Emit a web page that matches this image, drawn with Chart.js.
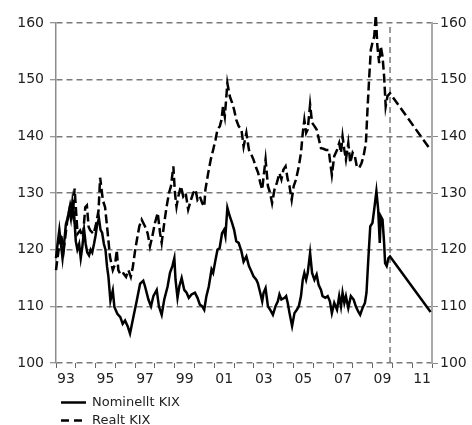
<!DOCTYPE html>
<html><head><meta charset="utf-8">
<script src="https://cdn.jsdelivr.net/npm/chart.js@4/dist/chart.umd.min.js"></script>
<style>html,body{margin:0;padding:0;background:#fff}#wrap{width:472px;height:425px}</style>
</head><body><div id="wrap"><canvas id="c" width="472" height="425"></canvas></div>
<script>
const seriesLabels = ['Nominellt KIX', 'Realt KIX'];

const nominalYears = [
  1993.00,1993.08,1993.17,1993.25,1993.33,1993.42,1993.50,1993.58,1993.67,1993.75,1993.83,1993.92,
  1994.00,1994.08,1994.17,1994.25,1994.33,1994.42,1994.50,1994.58,1994.67,1994.75,1994.83,1994.92,
  1995.00,1995.08,1995.17,1995.25,1995.33,1995.42,1995.50,1995.58,1995.65,1995.75,1995.87,1995.95,
  1996.10,1996.25,1996.37,1996.49,1996.62,1996.74,1996.91,1997.08,1997.25,1997.41,1997.50,1997.67,
  1997.80,1997.92,1998.09,1998.20,1998.34,1998.47,1998.64,1998.76,1998.88,1998.98,1999.04,1999.14,
  1999.23,1999.35,1999.48,1999.60,1999.71,1999.85,2000.02,2000.15,2000.27,2000.39,2000.49,2000.60,
  2000.72,2000.86,2000.94,2001.06,2001.16,2001.27,2001.39,2001.49,2001.56,2001.66,2001.78,2001.90,
  2002.00,2002.11,2002.23,2002.37,2002.48,2002.62,2002.75,2002.87,2002.98,2003.12,2003.20,2003.32,
  2003.42,2003.49,2003.59,2003.71,2003.82,2003.96,2004.09,2004.21,2004.29,2004.39,2004.55,2004.63,
  2004.71,2004.80,2004.93,2005.05,2005.17,2005.27,2005.38,2005.47,2005.55,2005.64,2005.72,2005.84,
  2005.94,2006.06,2006.17,2006.27,2006.39,2006.47,2006.61,2006.73,2006.84,2006.94,2007.06,2007.20,
  2007.31,2007.40,2007.48,2007.57,2007.65,2007.77,2007.90,2008.04,2008.15,2008.27,2008.37,2008.49,
  2008.61,2008.69,2008.78,2008.88,2008.99,2009.08,2009.19,2009.28,2009.36,2009.41,2009.50,2009.58,
  2009.63,2009.71,2009.80,2009.88,2011.93
];
const nominalValues = [
  118.5,121.0,123.5,121.0,118.5,121.5,124.5,125.5,127.0,125.5,128.5,126.0,
  121.5,120.0,121.0,118.5,120.5,123.5,121.0,119.5,119.0,120.0,119.5,121.0,
  122.5,124.5,125.5,123.5,123.0,121.0,120.0,117.0,115.2,111.0,112.8,109.9,
  108.7,108.1,106.9,107.5,106.5,105.2,108.1,111.0,114.0,114.5,113.5,111.2,
  110.0,111.8,112.9,110.0,108.5,111.2,113.5,115.9,117.1,118.5,114.7,111.5,
  113.5,115.0,112.9,112.4,111.5,112.1,112.4,111.5,110.3,110.0,109.4,111.8,
  113.5,116.5,115.9,118.2,120.0,120.3,122.9,123.5,122.4,127.4,125.9,124.7,
  123.5,121.5,121.2,119.7,117.9,118.8,117.1,116.2,115.3,114.7,114.1,112.4,
  110.9,112.4,113.2,110.0,109.4,108.5,110.0,110.9,112.1,111.2,111.5,111.8,
  110.6,108.8,106.5,108.8,109.4,110.0,111.8,114.7,115.9,114.7,115.9,119.4,
  115.9,114.7,115.6,113.8,112.9,111.8,111.5,111.8,110.9,108.8,110.6,109.4,
  111.8,110.0,112.4,110.6,111.8,109.7,111.8,111.2,110.0,109.1,108.5,109.7,
  110.6,112.4,118.2,124.1,124.7,127.1,130.3,127.1,121.2,125.9,125.3,121.2,
  117.6,117.1,118.5,118.8,109.0
];

const realYears = [
  1993.00,1993.13,1993.25,1993.39,1993.55,1993.72,1993.85,1993.94,
  1994.09,1994.22,1994.36,1994.48,1994.56,1994.65,1994.73,1994.90,1995.03,1995.15,1995.23,1995.37,
  1995.48,1995.60,1995.73,1995.87,1995.99,1996.07,1996.15,1996.27,1996.41,1996.54,1996.66,1996.78,
  1996.88,1997.00,1997.11,1997.21,1997.33,1997.50,1997.63,1997.75,1997.87,1998.00,1998.14,1998.26,
  1998.34,1998.47,1998.59,1998.71,1998.81,1998.93,1999.01,1999.09,1999.18,1999.31,1999.43,1999.55,
  1999.68,1999.82,1999.93,2000.05,2000.15,2000.27,2000.39,2000.49,2000.55,2000.69,2000.82,2000.94,
  2001.06,2001.16,2001.28,2001.36,2001.44,2001.53,2001.61,2001.66,2001.78,2001.90,2002.00,2002.11,
  2002.23,2002.37,2002.48,2002.62,2002.75,2002.87,2002.98,2003.12,2003.22,2003.32,2003.42,2003.49,
  2003.59,2003.71,2003.82,2003.92,2004.04,2004.16,2004.29,2004.39,2004.49,2004.60,2004.71,2004.80,
  2004.91,2005.01,2005.13,2005.27,2005.38,2005.47,2005.55,2005.64,2005.72,2005.84,2005.94,2006.06,
  2006.17,2006.27,2006.39,2006.51,2006.64,2006.78,2006.84,2006.94,2007.06,2007.20,2007.31,2007.40,
  2007.48,2007.57,2007.65,2007.77,2007.87,2007.99,2008.10,2008.20,2008.32,2008.44,2008.54,2008.66,
  2008.74,2008.83,2008.91,2008.99,2009.08,2009.16,2009.24,2009.33,2009.41,2009.50,2009.58,2009.66,
  2009.75,2009.88,2011.93
];
const realValues = [
  116.4,119.9,122.8,119.9,124.6,127.9,126.0,130.8,
  122.8,123.4,122.2,127.5,127.8,124.0,123.4,122.8,124.6,126.9,132.7,128.7,
  127.5,123.4,118.7,116.4,117.5,119.9,116.4,115.5,115.8,115.2,116.4,115.2,
  116.9,119.9,122.2,124.1,125.3,124.1,122.9,120.6,122.4,124.7,126.5,122.9,
  121.2,124.7,127.6,130.0,131.2,134.7,130.0,127.6,129.4,131.2,129.4,130.0,
  127.1,128.8,130.0,130.6,128.8,129.4,128.2,127.6,130.6,133.5,135.9,137.6,
  139.4,141.2,141.8,142.9,145.3,143.5,147.1,149.4,147.1,145.9,144.7,142.9,
  141.8,141.2,138.2,140.6,137.6,136.8,135.9,134.4,133.5,131.8,130.6,132.9,
  135.9,131.2,130.0,128.2,130.6,131.8,133.5,132.4,134.1,134.7,132.4,131.2,
  128.8,131.2,132.4,134.7,137.1,140.6,142.9,140.6,141.2,145.6,142.4,141.8,
  141.2,139.7,137.9,137.8,137.6,137.6,135.9,133.2,136.5,137.6,138.8,137.1,
  140.0,137.6,135.9,138.8,135.3,137.1,136.5,134.7,134.4,135.3,136.5,138.8,
  144.7,150.6,155.3,156.5,157.6,161.4,155.9,152.9,155.9,154.1,150.6,145.3,
  147.1,147.6,137.6
];

const yTicks = [100, 110, 120, 130, 140, 150, 160];
const xLabelYears = [1993, 1995, 1997, 1999, 2001, 2003, 2005, 2007, 2009, 2011];
const xLabels = ['93', '95', '97', '99', '01', '03', '05', '07', '09', '11'];
const xMin = 1993, xMax = 2012, yMin = 100, yMax = 160;
const forecastStart = 2009.88;

const toPoints = (xs, ys) => xs.map((x, i) => ({x: x, y: ys[i]}));

const FONT = 'DejaVu Sans';
const GRID = '#7a7a7a';

const legendPlugin = {
  id: 'kixLegend',
  afterDraw(chart) {
    const ctx = chart.ctx;
    const rows = [402.5, 420.5];
    ctx.save();
    chart.data.datasets.slice(0, 2).forEach((ds, i) => {
      const y = rows[i];
      ctx.strokeStyle = ds.borderColor;
      ctx.lineWidth = 2.5;
      ctx.setLineDash(ds.borderDash && ds.borderDash.length ? [8, 5] : []);
      ctx.beginPath(); ctx.moveTo(61, y); ctx.lineTo(86, y); ctx.stroke();
      ctx.setLineDash([]);
      ctx.fillStyle = '#222';
      ctx.font = '13px "' + FONT + '"';
      ctx.textBaseline = 'middle';
      ctx.textAlign = 'left';
      ctx.fillText(ds.label, 92, y);
    });
    ctx.restore();
  }
};

const yTickBuilder = axis => { axis.ticks = yTicks.map(v => ({value: v})); };

new Chart(document.getElementById('c'), {
  type: 'line',
  data: {
    datasets: [
      { label: seriesLabels[0], data: toPoints(nominalYears, nominalValues), borderColor: '#000', borderWidth: 2.5,
        pointRadius: 0, tension: 0, fill: false, clip: false, borderJoinStyle: 'miter' },
      { label: seriesLabels[1], data: toPoints(realYears, realValues), borderColor: '#000', borderWidth: 2.5,
        borderDash: [9, 4], pointRadius: 0, tension: 0, fill: false, clip: false, borderJoinStyle: 'miter' },
      { label: 'forecast', data: [{x: forecastStart, y: yMin}, {x: forecastStart, y: yMax}], borderColor: GRID,
        borderWidth: 1.5, borderDash: [6, 4], pointRadius: 0, fill: false }
    ]
  },
  options: {
    responsive: false, animation: false, devicePixelRatio: 1,
    layout: { padding: { top: 23, left: 0, right: 0, bottom: 40 } },
    plugins: { legend: { display: false }, tooltip: { enabled: false } },
    scales: {
      x: {
        type: 'linear', position: 'bottom', min: xMin, max: xMax,
        afterBuildTicks: axis => {
          const t = [];
          for (let y = xMin; y <= xMax; y++) { t.push({value: y}); if (y < xMax) t.push({value: y + 0.5}); }
          axis.ticks = t;
        },
        ticks: {
          autoSkip: false, maxRotation: 0, minRotation: 0, padding: 3,
          font: { family: FONT, size: 14 }, color: '#222',
          callback: v => { const i = xLabelYears.indexOf(v - 0.5); return i >= 0 ? xLabels[i] : ''; }
        },
        grid: { drawOnChartArea: false, tickLength: 5, lineWidth: 1,
          color: c => (c.tick && c.tick.value % 1 === 0) ? '#666' : 'rgba(0,0,0,0)' },
        border: { display: false },
        afterFit: a => { a.height = 22; }
      },
      y: {
        type: 'linear', position: 'left', min: yMin, max: yMax,
        afterBuildTicks: yTickBuilder,
        ticks: { padding: 6, font: { family: FONT, size: 14 }, color: '#222' },
        grid: { color: GRID, lineWidth: 1.5, tickLength: 6, tickColor: '#777', tickWidth: 1 },
        border: { display: true, color: '#8c8c8c', width: 1.5, dash: [6, 4] },
        afterFit: a => { a.width = 56; }
      },
      y2: {
        type: 'linear', position: 'right', min: yMin, max: yMax,
        afterBuildTicks: yTickBuilder,
        ticks: { padding: 2, font: { family: FONT, size: 14 }, color: '#222' },
        grid: { drawOnChartArea: false, tickLength: 6, color: '#888', lineWidth: 1 },
        border: { display: true, color: '#aaa', width: 2 },
        afterFit: a => { a.width = 40; }
      }
    }
  },
  plugins: [legendPlugin]
});
</script>
</body></html>
